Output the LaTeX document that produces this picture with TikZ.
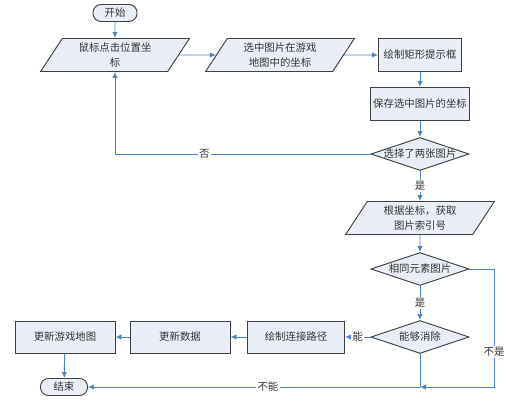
\documentclass[tikz,border=0pt]{standalone}
\usepackage{fontspec}
\setmainfont{Noto Sans CJK SC}
\usetikzlibrary{arrows.meta,shapes.geometric}
\definecolor{flowblue}{RGB}{79,129,189}
\definecolor{boxfill}{RGB}{233,238,246}
\definecolor{boxline}{RGB}{64,64,64}

\begin{document}
\begin{tikzpicture}[
    x=0.75pt,y=-0.75pt,
    font=\fontsize{7.8}{11}\selectfont,
    every node/.style={text=black!80},
    terminal/.style={draw=boxline,fill=boxfill,line width=0.7pt,rounded corners=6pt,
      minimum width=33pt,minimum height=12.75pt,inner sep=1pt},
    io/.style={trapezium,trapezium left angle=60,trapezium right angle=120,
      trapezium stretches=true,draw=boxline,fill=boxfill,line width=0.7pt,
      minimum width=111.75pt,minimum height=24.75pt,inner sep=1pt,align=center},
    process/.style={draw=boxline,fill=boxfill,line width=0.7pt,
      minimum width=74.25pt,minimum height=24.75pt,inner sep=1pt,align=center},
    decision/.style={diamond,aspect=3,draw=boxline,fill=boxfill,line width=0.7pt,
      minimum width=73.5pt,minimum height=24.75pt,inner sep=0pt},
    line/.style={draw=flowblue,line width=0.7pt},
    flow/.style={line,-{Latex[length=4.5pt,width=4pt]}},
    elabel/.style={fill=white,inner sep=1pt}
]
\useasboundingbox (0,0) rectangle (515,403);

% main column
\node[terminal] (start) at (115,13) {开始};
\node[io] (click) at (115,55) {鼠标点击位置坐\\标};
\node[io] (sel) at (280,55) {选中图片在游戏\\地图中的坐标};
\node[process,minimum width=62.25pt] (frame) at (420,55) {绘制矩形提示框};
\node[process] (save) at (420,104) {保存选中图片的坐标};
\node[decision,label={center:选择了两张图片}] (two) at (420,154) {};
\node[io] (index) at (420,218) {根据坐标，获取\\图片索引号};
\node[decision,label={center:相同元素图片}] (same) at (420,269) {};
\node[decision,label={center:能够消除}] (elim) at (420,337) {};

% bottom row
\node[process,minimum width=72.75pt,minimum height=24pt] (route) at (296,337) {绘制连接路径};
\node[process,minimum width=75pt,minimum height=24pt] (data) at (180,337) {更新数据};
\node[process,minimum width=75pt,minimum height=24pt] (map) at (65,337) {更新游戏地图};
\node[terminal,minimum width=35.25pt] (end) at (64,387) {结束};

\coordinate (join) at (420,387);
\coordinate (corner) at (494,387);

\draw[flow] (start) -- (click);
\draw[flow] (click) -- (sel);
\draw[flow] (sel) -- (frame);
\draw[flow] (frame) -- (save);
\draw[flow] (save) -- (two);
\draw[flow] (two.west) -| node[elabel,pos=0.325] {否} (click.south);
\draw[flow] (two) -- node[elabel] {是} (index);
\draw[flow] (index) -- (same);
\draw[flow] (same) -- node[elabel] {是} (elim);
\draw[flow] (elim) -- node[elabel] {能} (route);
\draw[flow] (route) -- (data);
\draw[flow] (data) -- (map);
\draw[flow] (map) -- (end);

% no match / cannot clear
\draw[line] (elim.south) -- (join);
\draw[flow] (join) -- node[elabel,pos=0.458] {不能} (end.east);
\draw[flow] (same.east) -| node[elabel,pos=0.85] {不是} (corner) -- (join);
\end{tikzpicture}
\end{document}
